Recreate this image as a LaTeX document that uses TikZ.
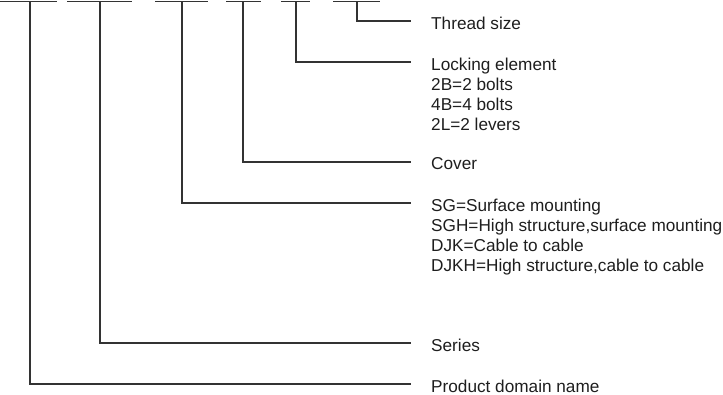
\documentclass[tikz,border=0pt]{standalone}
\usepackage{fontspec}
\setmainfont{Liberation Sans}
\usetikzlibrary{positioning}
\definecolor{linegray}{RGB}{51,51,51}
\definecolor{textgray}{RGB}{30,30,30}

\begin{document}
\begin{tikzpicture}[x=1pt, y=-1pt,
    conn/.style={linegray, line width=1.1pt},
    lbl/.style={textgray, inner sep=0pt, align=left,
      font=\fontsize{17.2}{20}\selectfont}]
  \useasboundingbox (0,0) rectangle (723,394);

  % blanks of the type code along the top
  \foreach \a/\b in {0/57, 67/132, 155/208, 226/261, 281/310, 333/380}
    \draw[conn] (\a,1.5) -- (\b,1.5);

  % where each blank hands its connector down
  \foreach \n/\x in {domain/30, series/100, mount/182, cover/243, lock/296, thread/357}
    \coordinate (\n-top) at (\x,1.5);

  % connector ends, just short of the labels
  \foreach \n/\y in {thread/21, lock/62, cover/162, mount/203, series/343, domain/384}
    \coordinate (\n-end) at (411,\y);

  % labels
  \node[lbl, below right=-4.5pt and 20pt of thread-end] (thread) {Thread size};
  \node[lbl, below right=-4.5pt and 20pt of lock-end] (lock)
    {Locking element\\2B=2 bolts\\4B=4 bolts\\2L=2 levers};
  \node[lbl, below right=-4.5pt and 20pt of cover-end] (cover) {Cover};
  \node[lbl, below right=-4.5pt and 20pt of mount-end] (mount)
    {SG=Surface mounting\\SGH=High structure,surface mounting\\DJK=Cable to cable\\DJKH=High structure,cable to cable};
  \node[lbl, below right=-4.5pt and 20pt of series-end] (series) {Series};
  \node[lbl, below right=-4.5pt and 20pt of domain-end] (domain) {Product domain name};

  % connectors
  \foreach \n in {thread, lock, cover, mount, series, domain}
    \draw[conn] (\n-top) |- (\n-end);
\end{tikzpicture}
\end{document}
